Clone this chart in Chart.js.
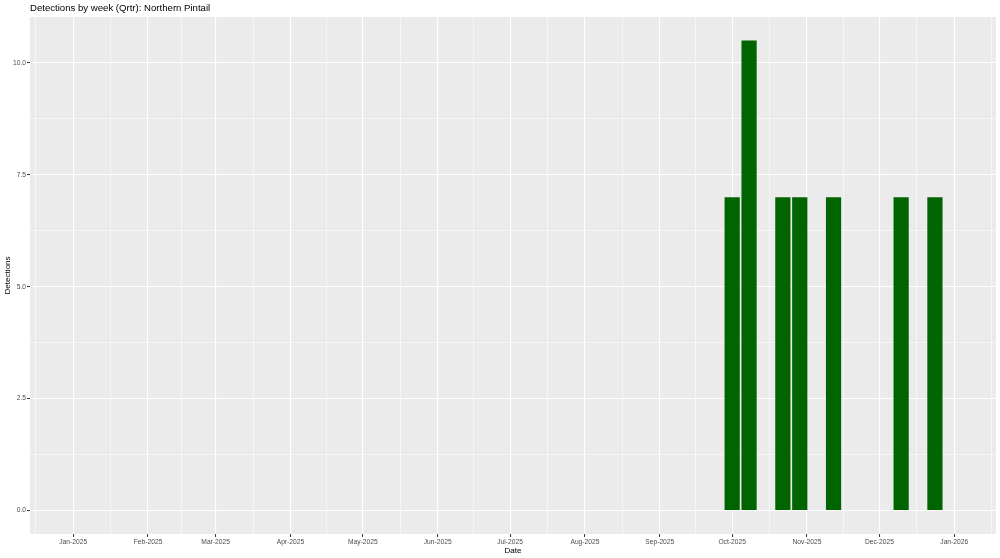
<!DOCTYPE html>
<html>
<head>
<meta charset="utf-8">
<script src="https://cdn.jsdelivr.net/npm/chart.js@4/dist/chart.umd.min.js"></script>
<style>
  html, body { margin: 0; padding: 0; background: #ffffff; }
  #wrap { width: 1000px; height: 558px; }
</style>
</head>
<body>
<div id="wrap"><canvas id="chart" width="1000" height="558"></canvas></div>
<script>
// weekly detections (week start dates)
var weekDates = ['2025-10-01', '2025-10-08', '2025-10-22', '2025-10-29', '2025-11-12', '2025-12-10', '2025-12-24'];
var detections = [7, 10.5, 7, 7, 7, 7, 7];

// x axis month breaks
var monthBreaks = ['2024-12-01', '2025-01-01', '2025-02-01', '2025-03-01', '2025-04-01', '2025-05-01', '2025-06-01',
  '2025-07-01', '2025-08-01', '2025-09-01', '2025-10-01', '2025-11-01', '2025-12-01', '2026-01-01', '2026-02-01'];
var monthLabels = ['Dec-2024', 'Jan-2025', 'Feb-2025', 'Mar-2025', 'Apr-2025', 'May-2025', 'Jun-2025',
  'Jul-2025', 'Aug-2025', 'Sep-2025', 'Oct-2025', 'Nov-2025', 'Dec-2025', 'Jan-2026', 'Feb-2026'];

// y axis breaks
var yBreaks = [0, 2.5, 5, 7.5, 10];
var yLabels = ['0.0', '2.5', '5.0', '7.5', '10.0'];

var DAY = 86400000;
var origin = Date.UTC(2025, 0, 1);
function toDay(s) {
  var p = s.split('-');
  return (Date.UTC(+p[0], +p[1] - 1, +p[2]) - origin) / DAY;
}

var xMin = -17.9, xMax = 382.3;
var yMin = -0.525, yMax = 11.025;

var monthDays = monthBreaks.map(toDay);
var xMajor = {};
var xTicks = [];
for (var i = 0; i < monthDays.length; i++) {
  if (i > 0) {
    var mid = (monthDays[i - 1] + monthDays[i]) / 2;
    if (mid >= xMin && mid <= xMax) xTicks.push({ value: mid });
  }
  if (monthDays[i] >= xMin && monthDays[i] <= xMax) {
    xTicks.push({ value: monthDays[i] });
    xMajor[monthDays[i]] = monthLabels[i];
  }
}

var yMajor = {};
var yTicks = [];
for (var j = 0; j < yBreaks.length; j++) {
  if (j > 0) yTicks.push({ value: (yBreaks[j - 1] + yBreaks[j]) / 2 });
  yTicks.push({ value: yBreaks[j] });
  yMajor[yBreaks[j]] = yLabels[j];
}

var points = weekDates.map(function (d, k) { return { x: toDay(d), y: detections[k] }; });

function isMajor(tbl, ctx) {
  return ctx.tick && tbl.hasOwnProperty(ctx.tick.value);
}

var panelBg = {
  id: 'panelBg',
  beforeDraw: function (chart) {
    var a = chart.chartArea, c = chart.ctx;
    c.save();
    c.fillStyle = '#ebebeb';
    c.fillRect(a.left, a.top, a.right - a.left, a.bottom - a.top);
    c.restore();
  },
  afterDraw: function (chart) {
    var c = chart.ctx;
    c.save();
    c.fillStyle = '#000000';
    c.font = '9.6px "Liberation Sans", Arial, sans-serif';
    c.textBaseline = 'middle';
    c.textAlign = 'left';
    c.fillText('Detections by week (Qrtr): Northern Pintail', chart.chartArea.left, 8.5);
    c.restore();
  }
};

var tickFont = { family: '"Liberation Sans", Arial, sans-serif', size: 6.7 };
var titleFont = { family: '"Liberation Sans", Arial, sans-serif', size: 8.1 };

new Chart(document.getElementById('chart'), {
  type: 'bar',
  data: {
    datasets: [{
      label: 'Detections',
      data: points,
      backgroundColor: '#006400',
      borderWidth: 0,
      barPercentage: 0.9,
      categoryPercentage: 1.0
    }]
  },
  options: {
    responsive: false,
    animation: false,
    layout: { padding: { top: 17, right: 4, left: 0, bottom: 0 } },
    plugins: {
      legend: { display: false },
      tooltip: { enabled: false },
      title: { display: false }
    },
    scales: {
      x: {
        type: 'linear',
        min: xMin,
        max: xMax,
        offset: false,
        afterBuildTicks: function (scale) { scale.ticks = xTicks.slice(); },
        afterFit: function (scale) { scale.height = 24; },
        border: { display: false },
        grid: {
          offset: false,
          drawOnChartArea: true,
          drawTicks: true,
          tickLength: 3,
          color: '#ffffff',
          lineWidth: function (ctx) { return isMajor(xMajor, ctx) ? 1.1 : 0.55; },
          tickColor: function (ctx) { return isMajor(xMajor, ctx) ? '#333333' : 'rgba(0,0,0,0)'; },
          tickWidth: 1
        },
        ticks: {
          autoSkip: false,
          maxRotation: 0,
          minRotation: 0,
          padding: 1,
          color: '#4d4d4d',
          font: tickFont,
          callback: function (v) { return xMajor.hasOwnProperty(v) ? xMajor[v] : ''; }
        },
        title: {
          display: true,
          text: 'Date',
          color: '#000000',
          font: titleFont,
          padding: { top: 0, bottom: 2.5 }
        }
      },
      y: {
        type: 'linear',
        min: yMin,
        max: yMax,
        afterBuildTicks: function (scale) { scale.ticks = yTicks.slice(); },
        afterFit: function (scale) { scale.width = 30; },
        border: { display: false },
        grid: {
          offset: false,
          drawTicks: true,
          tickLength: 3,
          color: '#ffffff',
          lineWidth: function (ctx) { return isMajor(yMajor, ctx) ? 1.1 : 0.55; },
          tickColor: function (ctx) { return isMajor(yMajor, ctx) ? '#333333' : 'rgba(0,0,0,0)'; },
          tickWidth: 1
        },
        ticks: {
          autoSkip: false,
          padding: 1,
          color: '#4d4d4d',
          font: tickFont,
          callback: function (v) { return yMajor.hasOwnProperty(v) ? yMajor[v] : ''; }
        },
        title: {
          display: true,
          text: 'Detections',
          color: '#000000',
          font: titleFont,
          padding: { top: 2.5, bottom: 0 }
        }
      }
    }
  },
  plugins: [panelBg]
});
</script>
</body>
</html>
